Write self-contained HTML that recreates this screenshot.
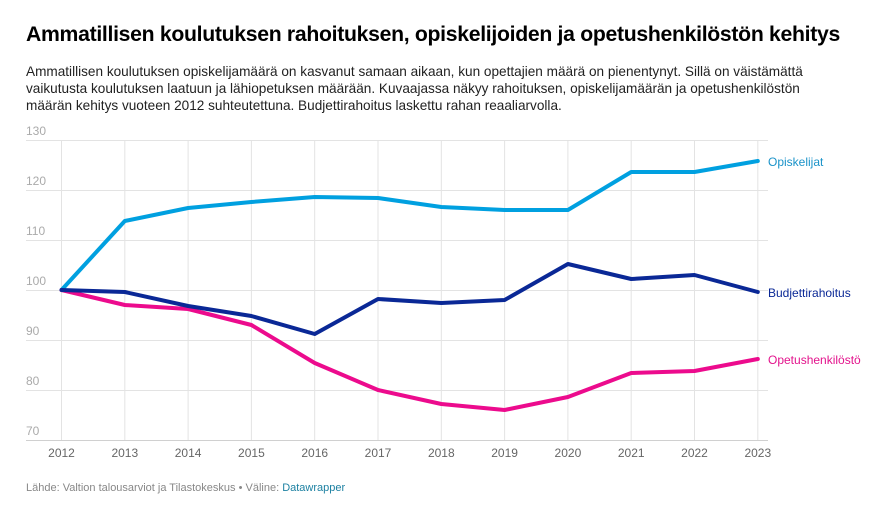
<!DOCTYPE html>
<html><head><meta charset="utf-8"><style>
body{margin:0;background:#fff;font-family:"Liberation Sans",sans-serif;width:890px;height:509px;overflow:hidden}
h1{position:absolute;left:26px;top:23px;margin:0;font-size:21.2px;font-weight:bold;color:#000;letter-spacing:-0.3px;white-space:nowrap}
.sub{position:absolute;left:26px;top:63px;width:822px;font-size:13.6px;line-height:17px;color:#222}
.foot{position:absolute;left:26px;top:482px;font-size:11px;color:#888}
.foot span{color:#1d81a2}
</style></head><body>
<h1>Ammatillisen koulutuksen rahoituksen, opiskelijoiden ja opetushenkilöstön kehitys</h1>
<div class="sub">Ammatillisen koulutuksen opiskelijamäärä on kasvanut samaan aikaan, kun opettajien määrä on pienentynyt. Sillä on väistämättä vaikutusta koulutuksen laatuun ja lähiopetuksen määrään. Kuvaajassa näkyy rahoituksen, opiskelijamäärän ja opetushenkilöstön määrän kehitys vuoteen 2012 suhteutettuna. Budjettirahoitus laskettu rahan reaaliarvolla.</div>
<svg width="890" height="509" style="position:absolute;left:0;top:0" font-family="Liberation Sans, sans-serif">
<g stroke="#e3e3e3" stroke-width="1">
<line x1="26" x2="768" y1="140.5" y2="140.5"/><line x1="26" x2="768" y1="190.5" y2="190.5"/><line x1="26" x2="768" y1="240.5" y2="240.5"/><line x1="26" x2="768" y1="290.5" y2="290.5"/><line x1="26" x2="768" y1="340.5" y2="340.5"/><line x1="26" x2="768" y1="390.5" y2="390.5"/>
<line x1="61.5" x2="61.5" y1="140" y2="440"/><line x1="124.8" x2="124.8" y1="140" y2="440"/><line x1="188.1" x2="188.1" y1="140" y2="440"/><line x1="251.4" x2="251.4" y1="140" y2="440"/><line x1="314.7" x2="314.7" y1="140" y2="440"/><line x1="378" x2="378" y1="140" y2="440"/><line x1="441.3" x2="441.3" y1="140" y2="440"/><line x1="504.6" x2="504.6" y1="140" y2="440"/><line x1="567.9" x2="567.9" y1="140" y2="440"/><line x1="631.2" x2="631.2" y1="140" y2="440"/><line x1="694.5" x2="694.5" y1="140" y2="440"/><line x1="757.8" x2="757.8" y1="140" y2="440"/>
</g>
<line x1="26" x2="768" y1="440.5" y2="440.5" stroke="#d0d0d0"/>
<g fill="#aaa" font-size="12">
<text x="26" y="135">130</text><text x="26" y="185">120</text><text x="26" y="235">110</text><text x="26" y="285">100</text><text x="26" y="335">90</text><text x="26" y="385">80</text><text x="26" y="435">70</text>
</g>
<g fill="#666" font-size="12" text-anchor="middle">
<text x="61.5" y="457">2012</text><text x="124.8" y="457">2013</text><text x="188.1" y="457">2014</text><text x="251.4" y="457">2015</text><text x="314.7" y="457">2016</text><text x="378" y="457">2017</text><text x="441.3" y="457">2018</text><text x="504.6" y="457">2019</text><text x="567.9" y="457">2020</text><text x="631.2" y="457">2021</text><text x="694.5" y="457">2022</text><text x="757.8" y="457">2023</text>
</g>
<g fill="none" stroke-width="4" stroke-linejoin="round" stroke-linecap="round">
<polyline stroke="#00a0e0" points="61.5,290 124.8,221 188.1,208 251.4,202 314.7,197 378,198 441.3,207 504.6,210 567.9,210 631.2,172 694.5,172 757.8,161"/>
<polyline stroke="#ec0b8d" points="61.5,290 124.8,305 188.1,309 251.4,325 314.7,363 378,390 441.3,404 504.6,410 567.9,397 631.2,373 694.5,371 757.8,359"/>
<polyline stroke="#0a2896" points="61.5,290 124.8,292 188.1,306 251.4,316 314.7,334 378,299 441.3,303 504.6,300 567.9,264 631.2,279 694.5,275 757.8,292"/>
</g>
<g font-size="12">
<text x="768" y="166" fill="#1a93c9">Opiskelijat</text>
<text x="768" y="297" fill="#0a2896">Budjettirahoitus</text>
<text x="768" y="364" fill="#e3138c">Opetushenkilöstö</text>
</g>
</svg>
<div class="foot">Lähde: Valtion talousarviot ja Tilastokeskus • Väline: <span>Datawrapper</span></div>
</body></html>
